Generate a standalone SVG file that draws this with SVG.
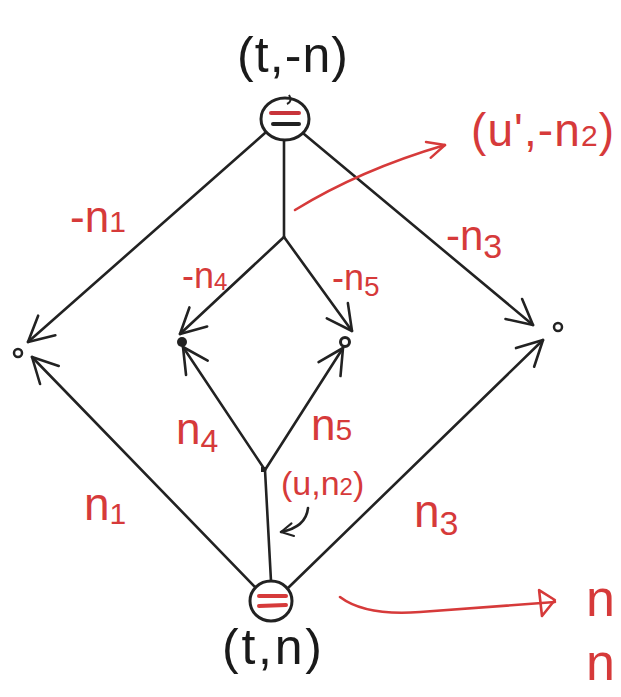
<svg xmlns="http://www.w3.org/2000/svg" width="621" height="697" viewBox="0 0 621 697">
<style>
.e{fill:none;stroke:#222;stroke-width:2.6;stroke-linecap:round;stroke-linejoin:round}
.r{fill:none;stroke:#d63a3a;stroke-width:2.6;stroke-linecap:round;stroke-linejoin:round}
.bl{font-family:"Liberation Sans","DejaVu Sans",sans-serif;fill:#1a1a1a}
.rl{font-family:"Liberation Sans","DejaVu Sans",sans-serif;fill:#d63a3a}
.node{fill:#fff;stroke:#222;stroke-width:3}
</style>
<defs>
<marker id="ah" viewBox="0 0 30 30" refX="28" refY="15" markerWidth="30" markerHeight="30" markerUnits="userSpaceOnUse" orient="auto">
<path d="M3,2 L28,15 L3,28" fill="none" stroke="#222" stroke-width="2.6" stroke-linecap="round" stroke-linejoin="round"/>
</marker>
<marker id="ahs" viewBox="0 0 20 20" refX="18" refY="10" markerWidth="16" markerHeight="16" markerUnits="userSpaceOnUse" orient="auto">
<path d="M3,2 L18,10 L3,18" fill="none" stroke="#222" stroke-width="2.6" stroke-linecap="round" stroke-linejoin="round"/>
</marker>
<marker id="ahr" viewBox="0 0 24 24" refX="22" refY="12" markerWidth="22" markerHeight="22" markerUnits="userSpaceOnUse" orient="auto">
<path d="M3,3 L22,12 L3,21" fill="none" stroke="#d63a3a" stroke-width="2.6" stroke-linecap="round" stroke-linejoin="round"/>
</marker>
<marker id="tri" viewBox="0 0 20 30" refX="17" refY="15" markerWidth="20" markerHeight="30" markerUnits="userSpaceOnUse" orient="auto">
<path d="M2,2 L17,13 L3,28 Z" fill="none" stroke="#d63a3a" stroke-width="2.6" stroke-linejoin="round"/>
</marker>
</defs>

<g id="connectors">
<path class="e" d="M265,133 L28,342" marker-end="url(#ah)"/>
<path class="e" d="M256,588 L32,357" marker-end="url(#ah)"/>
<path class="e" d="M304,134 L533,325" marker-end="url(#ah)"/>
<path class="e" d="M288,588 L543,340" marker-end="url(#ah)"/>
<path class="e" d="M284,141 L284,237"/>
<path class="e" d="M284,237 L180,334" marker-end="url(#ah)"/>
<path class="e" d="M284,237 L352,331" marker-end="url(#ah)"/>
<path class="e" d="M271,581 L265,470"/>
<path class="e" d="M265,470 L183,347" marker-end="url(#ah)"/>
<path class="e" d="M265,470 L343,348" marker-end="url(#ah)"/>
<rect x="261" y="467" width="5" height="5" fill="#222"/>
<path class="r" d="M295,210 Q360,170 445,145" marker-end="url(#ahr)"/>
<path class="r" d="M340,597 Q365,616 420,612 L555,602" marker-end="url(#tri)"/>
<path class="e" d="M308,508 Q306,527 281,532" marker-end="url(#ahs)"/>
</g>

<g id="node-top">
<ellipse class="node" cx="285" cy="119" rx="24" ry="21"/>
<path d="M271,113 L299,113" stroke="#c8343a" stroke-width="4" stroke-linecap="round"/>
<path d="M273,124 L299,124" stroke="#222" stroke-width="4" stroke-linecap="round"/>
<path d="M287,104 q6,-3 2,-9" fill="none" stroke="#222" stroke-width="2"/>
<text class="bl" x="237" y="72" font-size="50" textLength="111">(t,-n)</text>
</g>

<g id="node-bottom">
<ellipse class="node" cx="271" cy="601" rx="21" ry="20"/>
<path d="M259,596 L286,596" stroke="#d63a3a" stroke-width="4" stroke-linecap="round"/>
<path d="M259,606 L286,605" stroke="#d63a3a" stroke-width="4" stroke-linecap="round"/>
<text class="bl" x="222" y="664" font-size="50" textLength="100">(t,n)</text>
</g>

<g id="point-left"><circle cx="18" cy="353" r="4" fill="none" stroke="#222" stroke-width="2.5"/></g>
<g id="point-inner-left"><circle cx="182" cy="342" r="5" fill="#222"/></g>
<g id="point-inner-right"><circle cx="345" cy="342" r="4.5" fill="none" stroke="#222" stroke-width="3"/></g>
<g id="point-right"><circle cx="558" cy="327" r="4" fill="none" stroke="#222" stroke-width="2.5"/></g>

<g id="labels">
<text class="rl" x="70" y="232" font-size="44">-n<tspan font-size="30">1</tspan></text>
<text class="rl" x="446" y="250" font-size="42">-n<tspan font-size="34" dy="8">3</tspan></text>
<text class="rl" x="182" y="288" font-size="36">-n<tspan font-size="24" dy="2">4</tspan></text>
<text class="rl" x="332" y="290" font-size="36">-n<tspan font-size="28" dy="6">5</tspan></text>
<text class="rl" x="176" y="444" font-size="44">n<tspan font-size="32" dy="8">4</tspan></text>
<text class="rl" x="311" y="440" font-size="44">n<tspan font-size="30">5</tspan></text>
<text class="rl" x="84" y="520" font-size="46">n<tspan font-size="30" dy="4">1</tspan></text>
<text class="rl" x="414" y="527" font-size="46">n<tspan font-size="34" dy="8">3</tspan></text>
<text class="rl" x="281" y="495" font-size="34">(u,n<tspan font-size="24">2</tspan>)</text>
<text class="rl" x="471" y="146" font-size="46" textLength="143">(u',-n<tspan font-size="30">2</tspan>)</text>
<text class="rl" x="586" y="616" font-size="52">n</text>
<text class="rl" x="586" y="680" font-size="52">n</text>
</g>
</svg>
